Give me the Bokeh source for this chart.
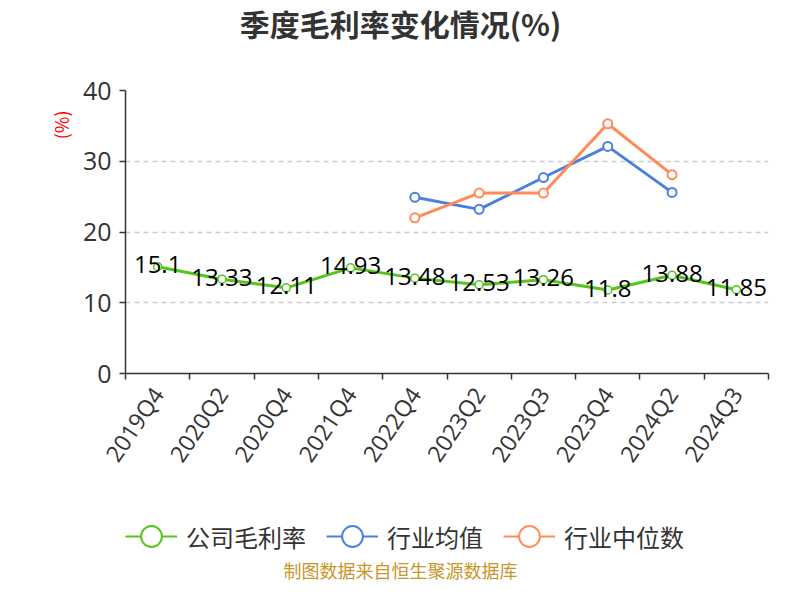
import math
from bokeh.plotting import figure
from bokeh.layouts import column
from bokeh.models import (Range1d, FixedTicker, Legend, LegendItem, Title, Label,
                          ColumnDataSource)
from bokeh.core.properties import value
from bokeh.embed import file_html
from bokeh.resources import INLINE

# quarters on the x axis
quarters = ["2019Q4", "2020Q2", "2020Q4", "2021Q4", "2022Q4",
            "2023Q2", "2023Q3", "2023Q4", "2024Q2", "2024Q3"]
# company gross margin (%)
company = [15.1, 13.33, 12.11, 14.93, 13.48, 12.53, 13.26, 11.8, 13.88, 11.85]
# industry average / median (%), nan where no value
nan = float("nan")
ind_mean = [nan, nan, nan, nan, 24.9, 23.2, 27.7, 32.1, 25.6, nan]
ind_median = [nan, nan, nan, nan, 22.0, 25.5, 25.5, 35.3, 28.1, nan]
y_ticks = [0, 10, 20, 30, 40]
series_names = ["公司毛利率", "行业均值", "行业中位数"]

GREEN = "#55c51c"
BLUE = "#4d7fe2"
ORANGE = "#ff8b58"
CJK = "Noto Sans CJK SC"
LAT = "Open Sans"
W = 784
LEFT = 125  # column lines up the frames, so strips start here too


def blank(h):
    # plain strip for title / legend, no axes or grid
    f = figure(width=W, height=h, x_range=Range1d(0, 1), y_range=Range1d(0, 1),
               output_backend="svg", toolbar_location=None,
               x_axis_location=None, y_axis_location=None,
               min_border=0, min_border_left=0, min_border_right=0,
               min_border_top=0, min_border_bottom=0)
    f.grid.visible = False
    f.outline_line_color = None
    return f


# ---- title strip
top = blank(60)
top.add_layout(Label(x=400 - LEFT, y=38, x_units="screen", y_units="screen",
                     text="季度毛利率变化情况(%)", text_font=CJK, text_font_size="30px",
                     text_font_style="bold", text_color="#333333",
                     text_align="center", text_baseline="middle"))

# ---- main chart
xs = [i + 0.5 for i in range(len(quarters))]
bounds = list(range(len(quarters) + 1))

src = ColumnDataSource(dict(x=xs, company=company, mean=ind_mean, median=ind_median,
                            lbl=[str(v) for v in company]))

p = figure(width=W, height=420, x_range=Range1d(0, len(quarters)), y_range=Range1d(0, 40),
           output_backend="svg", toolbar_location=None,
           min_border_left=LEFT, min_border_right=16, min_border_top=30, min_border_bottom=107)
p.outline_line_color = None

p.xgrid.visible = False
p.ygrid.grid_line_color = "#cccccc"
p.ygrid.grid_line_dash = "5 4"
p.ygrid.grid_line_width = 1.5

# x axis: ticks between quarters, labels in the middle
xa = p.xaxis[0]
xa.ticker = FixedTicker(ticks=xs, minor_ticks=bounds)
xa.major_label_overrides = {x: q for x, q in zip(xs, quarters)}
xa.major_tick_line_color = None
xa.major_tick_out = 4
xa.major_tick_in = 0
xa.minor_tick_line_color = "#333333"
xa.minor_tick_line_width = 1.5
xa.minor_tick_out = 6
xa.minor_tick_in = 0
xa.major_label_orientation = math.radians(56)
xa.major_label_standoff = 10
xa.major_label_text_font = LAT
xa.major_label_text_font_size = "23px"
xa.major_label_text_color = "#333333"
xa.axis_line_color = "#333333"
xa.axis_line_width = 1.5

ya = p.yaxis[0]
ya.ticker = FixedTicker(ticks=y_ticks)
ya.minor_tick_line_color = None
ya.major_tick_out = 6
ya.major_tick_in = 0
ya.major_tick_line_color = "#333333"
ya.major_tick_line_width = 1.5
ya.major_label_standoff = 8
ya.major_label_text_font = LAT
ya.major_label_text_font_size = "25px"
ya.major_label_text_color = "#333333"
ya.axis_line_color = "#333333"
ya.axis_line_width = 1.5

p.line("x", "company", source=src, line_color=GREEN, line_width=3)
p.scatter("x", "company", source=src, size=8, line_color=GREEN, line_width=1.5,
          fill_color="white")
p.line("x", "mean", source=src, line_color=BLUE, line_width=3)
p.scatter("x", "mean", source=src, size=9, line_color=BLUE, line_width=2, fill_color="white")
p.line("x", "median", source=src, line_color=ORANGE, line_width=3)
p.scatter("x", "median", source=src, size=9, line_color=ORANGE, line_width=2,
          fill_color="white")

p.text("x", "company", text="lbl", source=src, text_font=value(LAT), text_font_size="24px",
       text_color="black", text_align="center", text_baseline="middle", y_offset=-2)

p.add_layout(Title(text="(%)", text_font=CJK, text_font_size="18px", text_font_style="normal",
                   text_color="#ff0000", align="right", offset=20, standoff=12), "left")

# ---- legend + source strip
bot = blank(104)
items = []
for name, col in zip(series_names, [GREEN, BLUE, ORANGE]):
    # one empty (nan) row so the legend has something to draw from
    r1 = bot.line([nan], [nan], line_color=col, line_width=2)
    r2 = bot.scatter([nan], [nan], line_color=col, line_width=2, fill_color="white")
    items.append(LegendItem(label=name, renderers=[r1, r2]))
legend = Legend(items=items, orientation="horizontal", location=(0, 18),
                glyph_width=52, glyph_height=60, label_standoff=9, spacing=20,
                padding=0, margin=0, border_line_color=None, background_fill_alpha=0,
                label_text_font=CJK, label_text_font_size="24px", label_text_color="#333333")
bot.add_layout(legend, "center")
bot.add_layout(Label(x=400 - LEFT, y=15, x_units="screen", y_units="screen",
                     text="制图数据来自恒生聚源数据库", text_font=CJK, text_font_size="18px",
                     text_color="#c8962a", text_align="center", text_baseline="middle"))

layout = column(top, p, bot, spacing=0)
open("out.html", "w").write(file_html(layout, INLINE))
